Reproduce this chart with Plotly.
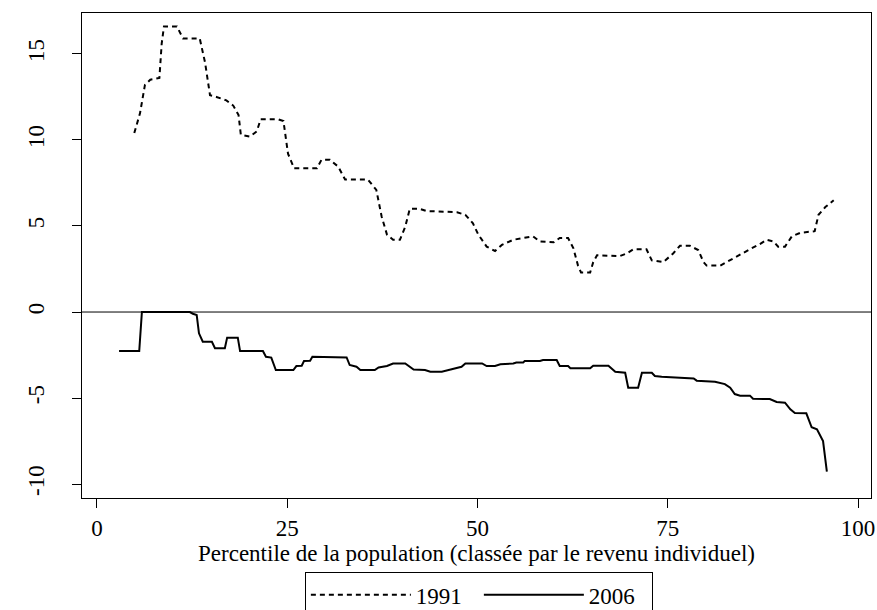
import plotly.graph_objects as go

# 1991 series (dashed)
x1991 = [4.9, 5.65, 6.3, 7.0, 8.2, 8.5, 8.8, 10.5, 11.3, 13.5, 14.2, 14.85, 15.7, 17.0, 17.9, 18.6,
         18.9, 20.1, 21.0, 21.5, 23.8, 24.5, 25.1, 25.9, 28.9, 29.5, 30.6, 31.7, 32.6, 35.6, 36.7,
         37.4, 38.1, 38.9, 39.8, 40.5, 41.1, 42.4, 43.3, 47.3, 48.4, 49.4, 50.1, 51.2, 52.3, 53.2,
         54.7, 57.3, 58.2, 60.0, 60.8, 61.9, 62.6, 63.2, 63.6, 64.8, 65.2, 65.7, 68.7, 69.6, 70.5,
         72.2, 72.9, 74.4, 75.7, 76.6, 77.9, 79.0, 79.7, 80.1, 81.9, 82.7, 83.8, 84.9, 86.0, 87.1,
         88.0, 88.9, 89.5, 90.4, 91.3, 92.4, 94.3, 94.8, 95.7, 96.8]
y1991 = [10.4, 11.55, 13.2, 13.5, 13.6, 15.6, 16.6, 16.6, 15.9, 15.9, 14.5, 12.6, 12.5, 12.3, 12.0, 11.45,
         10.3, 10.2, 10.5, 11.2, 11.2, 11.1, 9.2, 8.35, 8.35, 8.85, 8.85, 8.45, 7.7, 7.7, 7.1,
         5.55, 4.5, 4.2, 4.2, 4.95, 6.0, 6.0, 5.87, 5.8, 5.65, 5.15, 4.5, 3.8, 3.55, 3.9,
         4.2, 4.4, 4.1, 4.05, 4.3, 4.3, 3.7, 2.7, 2.3, 2.3, 2.9, 3.3, 3.25, 3.4, 3.65,
         3.65, 3.0, 2.9, 3.4, 3.85, 3.85, 3.6, 2.9, 2.7, 2.7, 2.9, 3.2, 3.45, 3.7, 3.95,
         4.2, 4.1, 3.8, 3.8, 4.4, 4.6, 4.7, 5.65, 6.1, 6.5]

# 2006 series (solid)
x2006 = [2.9, 5.55, 5.9, 12.2, 12.6, 13.1, 13.4, 13.9, 15.1, 15.5, 16.8, 17.1, 18.5, 18.8, 21.8,
         22.2, 22.9, 23.5, 25.8, 26.2, 26.9, 27.2, 28.0, 28.3, 32.8, 33.2, 34.1, 34.6, 36.5, 37.0,
         38.1, 38.9, 40.5, 41.6, 43.1, 43.8, 45.3, 46.6, 47.9, 48.4, 50.6, 51.2, 52.3, 53.0,
         54.7, 55.1, 56.0, 56.2, 58.2, 58.6, 60.4, 60.8, 61.9, 62.2, 64.8, 65.2, 67.2, 68.1,
         69.4, 69.8, 71.1, 71.6, 72.9, 73.3, 74.2, 76.6, 78.4, 78.8, 81.2, 82.5, 83.2, 83.8,
         84.5, 85.8, 86.2, 88.4, 89.3, 90.4, 91.1, 91.7, 93.2, 93.9, 94.6, 95.4, 95.9]
y2006 = [-2.27, -2.27, 0.0, 0.0, -0.1, -0.17, -1.24, -1.73, -1.73, -2.1, -2.1, -1.49, -1.49, -2.27, -2.27,
         -2.6, -2.65, -3.37, -3.37, -3.14, -3.12, -2.85, -2.83, -2.6, -2.64, -3.08, -3.18, -3.37, -3.37, -3.22,
         -3.14, -2.99, -2.99, -3.34, -3.37, -3.47, -3.47, -3.34, -3.18, -2.99, -2.99, -3.14, -3.14, -3.04,
         -2.99, -2.93, -2.93, -2.85, -2.85, -2.79, -2.79, -3.14, -3.14, -3.27, -3.27, -3.12, -3.12, -3.47,
         -3.53, -4.4, -4.4, -3.53, -3.53, -3.72, -3.76, -3.82, -3.86, -3.99, -4.05, -4.19, -4.4, -4.77,
         -4.86, -4.86, -5.04, -5.06, -5.23, -5.27, -5.66, -5.87, -5.89, -6.7, -6.82, -7.5, -9.28]

xticks = [0, 25, 50, 75, 100]
yticks = [-10, -5, 0, 5, 10, 15]
x_title = "Percentile de la population (classée par le revenu individuel)"

FONT = "Liberation Serif"
FS = 23

fig = go.Figure()
fig.add_trace(go.Scatter(x=x1991, y=y1991, mode="lines", name="1991",
                         line=dict(color="black", width=2, dash="5px,4px")))
fig.add_trace(go.Scatter(x=x2006, y=y2006, mode="lines", name="2006",
                         line=dict(color="black", width=2)))

fig.add_shape(type="line", xref="paper", yref="y", x0=0, x1=1, y0=0, y1=0,
              line=dict(color="black", width=1))

fig.update_layout(
    width=877, height=610,
    margin=dict(l=82, r=6, t=13, b=112, autoexpand=False),
    paper_bgcolor="white", plot_bgcolor="white",
    font=dict(family=FONT, size=FS, color="black"),
    showlegend=True,
    legend=dict(orientation="h", x=0.503, xanchor="center", y=-0.153, yanchor="top",
                bordercolor="black", borderwidth=1, bgcolor="white",
                font=dict(family=FONT, size=FS), itemwidth=100, entrywidth=58,
                traceorder="normal"),
)
fig.update_xaxes(range=[-1.97, 101.7], tickvals=xticks, ticktext=[str(v) for v in xticks],
                 showgrid=False, zeroline=False, showline=True, mirror=True,
                 linecolor="black", linewidth=1, ticks="outside", ticklen=9,
                 tickcolor="black", tickfont=dict(family=FONT, size=FS), automargin=False,
                 title=dict(text=x_title, font=dict(family=FONT, size=FS), standoff=3))
fig.update_yaxes(range=[-10.81, 17.38], tickvals=yticks, ticktext=[str(v) for v in yticks],
                 showgrid=False, zeroline=False, showline=True, mirror=True,
                 linecolor="black", linewidth=1, ticks="outside", ticklen=9,
                 tickcolor="black", tickangle=-90, tickfont=dict(family=FONT, size=FS),
                 ticklabelstandoff=19, automargin=False)

fig.write_html("out.html", config={"displayModeBar": False},
               post_script="document.body.style.margin='0';")
